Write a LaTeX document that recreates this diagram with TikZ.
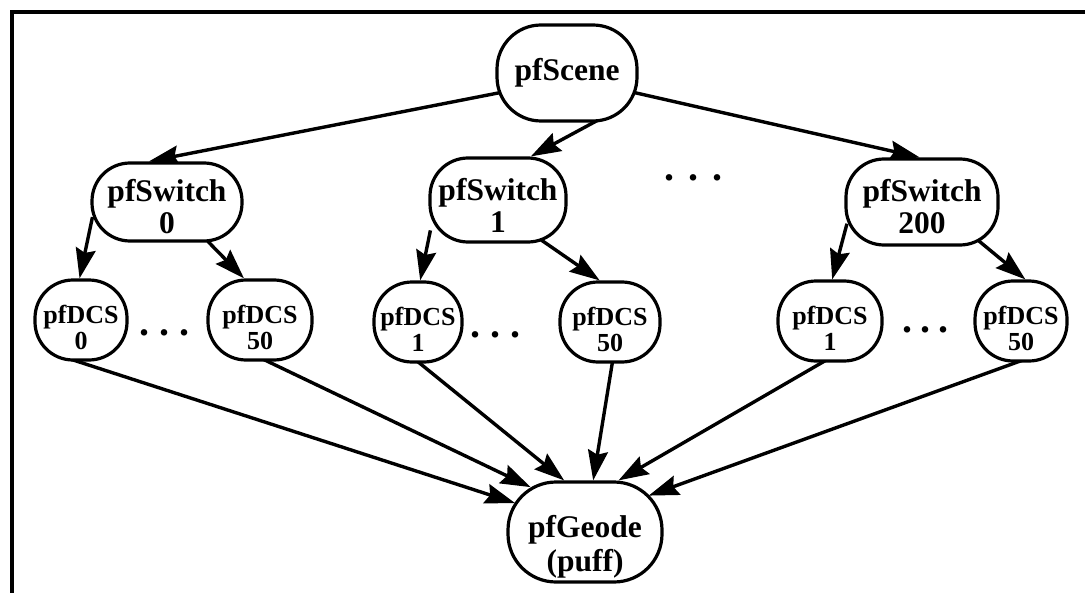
\documentclass[tikz,border=0pt]{standalone}
\usepackage{fontspec}
\setmainfont{Liberation Serif}
\usetikzlibrary{arrows.meta}
\pgfdeclarelayer{back}
\pgfsetlayers{back,main}
\newcommand\tightlines{\lineskiplimit-20pt\lineskip0pt\relax}

\begin{document}
\begin{tikzpicture}[x=0.5pt, y=-0.5pt,
    blob/.style={draw, fill=white, line width=1.6pt, rounded corners=19pt, align=center, inner sep=0pt,
        font=\bfseries\fontsize{15.75}{16}\selectfont\tightlines},
    switch/.style={blob, text height=32pt, text depth=0pt},
    dcs/.style={blob, minimum height=40pt, text height=29pt, text depth=0pt,
        font=\bfseries\fontsize{13}{13}\selectfont\tightlines},
    link/.style={line width=1.7pt, -{Stealth[length=15pt, width=10pt, inset=2pt]}, shorten <=-5pt},
    dots/.style={inner sep=0pt, font=\bfseries\fontsize{20}{20}\selectfont}]
    \useasboundingbox (0,0) rectangle (1085,593);
    \draw[line width=2pt] (12,593) -- (12,12) -- (1085,12);

    \node[blob, minimum width=70pt, minimum height=48pt, rounded corners=22pt] (scene) at (567,73) {pfScene};
    \node[switch, minimum width=75pt, minimum height=39pt] (sw0) at (167,202) {pfSwitch\\0};
    \node[switch, minimum width=68pt, minimum height=42pt] (sw1) at (498,200) {pfSwitch\\1};
    \node[switch, minimum width=76pt, minimum height=43pt] (sw200) at (922,202) {pfSwitch\\200};
    \node[dots] (dotstop) at (693,178) {.\hskip7pt.\hskip7pt.};

    \node[dcs, minimum width=46pt] (dcs0) at (81,320) {pfDCS\\0};
    \node[dcs, minimum width=52pt] (dcs50a) at (260,320) {pfDCS\\50};
    \node[dots] (dotsa) at (164,333) {.\hskip5pt.\hskip5pt.};
    \node[dcs, minimum width=44pt] (dcs1b) at (418,322) {pfDCS\\1};
    \node[dcs, minimum width=50pt] (dcs50b) at (610,322) {pfDCS\\50};
    \node[dots] (dotsb) at (495,335) {.\hskip5pt.\hskip5pt.};
    \node[dcs, minimum width=52pt] (dcs1c) at (830,321) {pfDCS\\1};
    \node[dcs, minimum width=46pt] (dcs50c) at (1021,321) {pfDCS\\50};
    \node[dots] (dotsc) at (925,330) {.\hskip4pt.\hskip4pt.};

    \node[blob, minimum width=77pt, minimum height=50pt, rounded corners=24pt, text height=39pt, text depth=0pt,
        font=\bfseries\fontsize{15.75}{17}\selectfont\tightlines] (geode) at (585,532) {pfGeode\\(puff)};

    \begin{pgfonlayer}{back}
    \draw[link] (scene.196) -- (sw0.114);
    \draw[link] (scene.298) -- (sw1.53);
    \draw[link] (scene.344) -- (sw200.93);
    \draw[link] (sw0.198) -- (dcs0.92);
    \draw[link] (sw0.316) -- (dcs50a.111);
    \draw[link] (sw1.210) -- (dcs1b.87);
    \draw[link] (sw1.318) -- (dcs50b.104);
    \draw[link] (sw200.202) -- (dcs1c.87);
    \draw[link] (sw200.325) -- (dcs50c.84);
    \draw[link, shorten >=-4.5pt] (dcs0.266) -- (geode.158);
    \draw[link, shorten >=-7.8pt] (dcs50a.281) -- (geode.143);
    \draw[link] (dcs1b.273) -- (geode.112);
    \draw[link] (dcs50b.273) -- (geode.81);
    \draw[link] (dcs1c.259) -- (geode.57);
    \draw[link, shorten >=-7.9pt] (dcs50c.263) -- (geode.28);
    \end{pgfonlayer}
\end{tikzpicture}
\end{document}
